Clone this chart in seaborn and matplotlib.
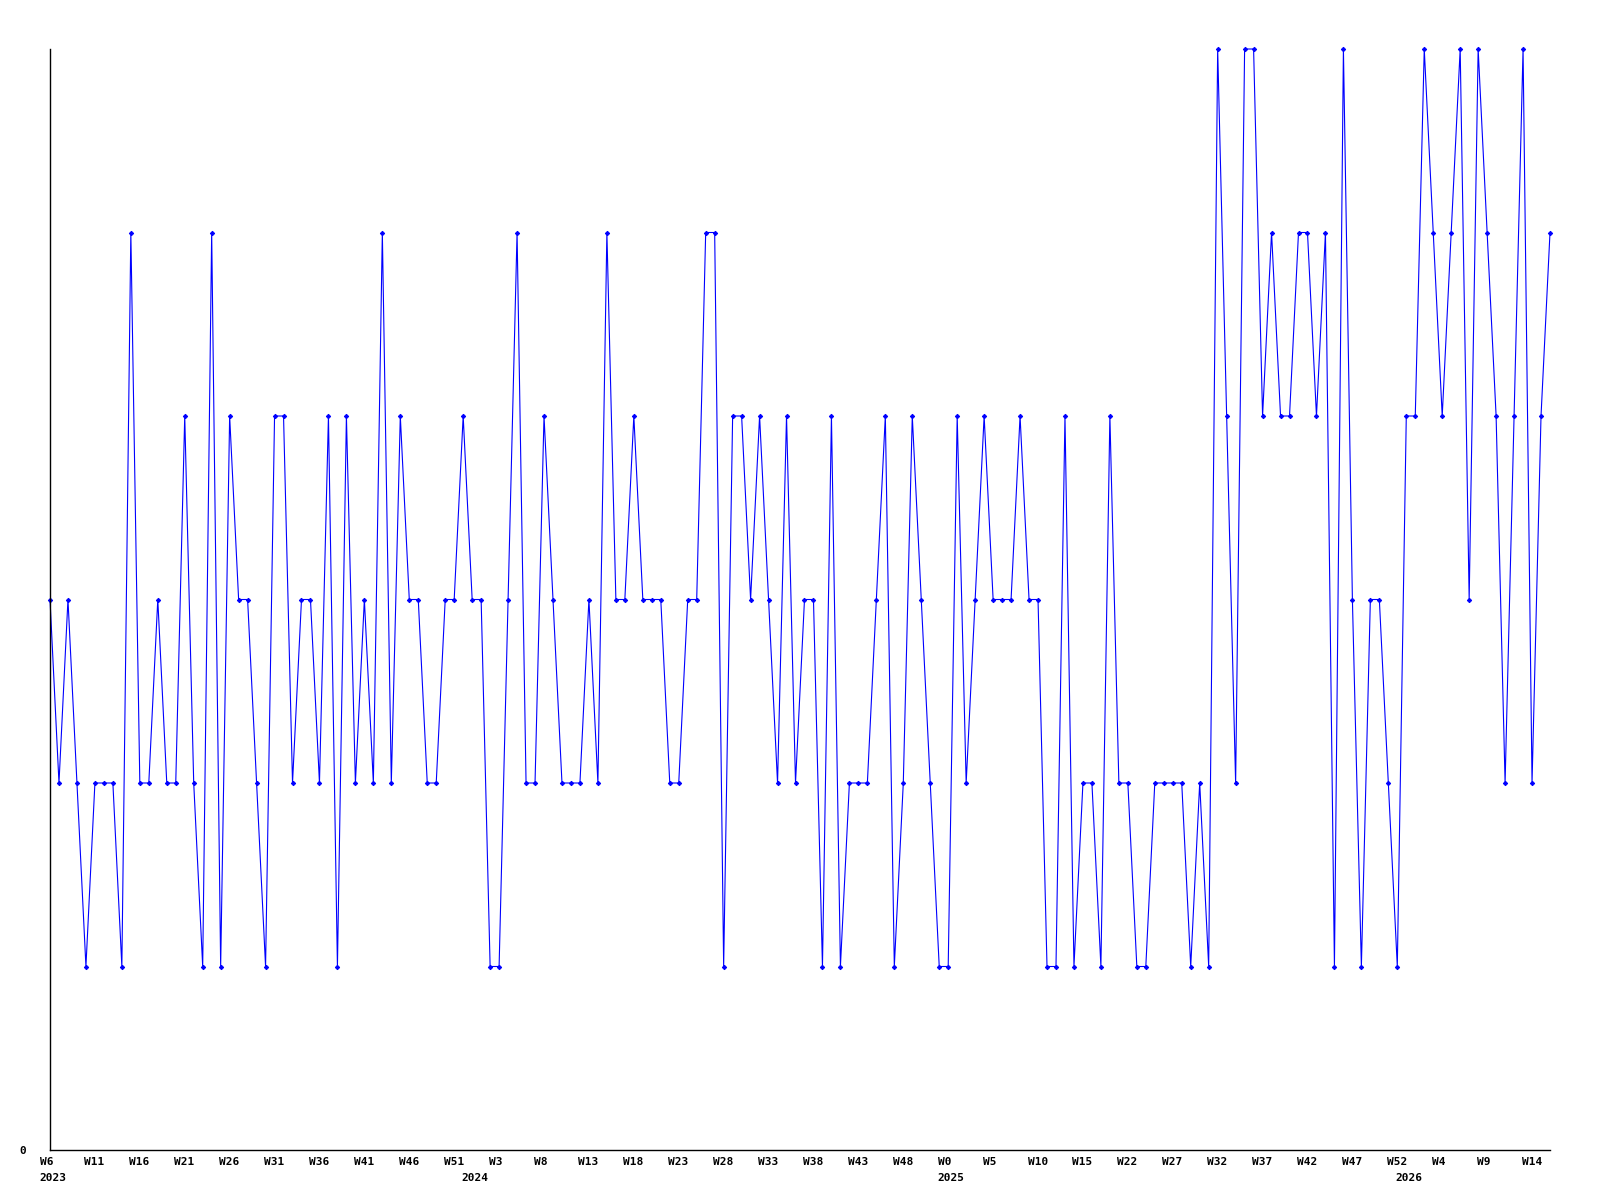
import matplotlib
matplotlib.use("Agg")
import matplotlib.pyplot as plt
import matplotlib.transforms as mtransforms
import seaborn as sns
import pandas as pd
import numpy as np

values = [
    3, 2, 3, 2, 1, 2, 2, 2, 1, 5,
    2, 2, 3, 2, 2, 4, 2, 1, 5, 1,
    4, 3, 3, 2, 1, 4, 4, 2, 3, 3,
    2, 4, 1, 4, 2, 3, 2, 5, 2, 4,
    3, 3, 2, 2, 3, 3, 4, 3, 3, 1,
    1, 3, 5, 2, 2, 4, 3, 2, 2, 2,
    3, 2, 5, 3, 3, 4, 3, 3, 3, 2,
    2, 3, 3, 5, 5, 1, 4, 4, 3, 4,
    3, 2, 4, 2, 3, 3, 1, 4, 1, 2,
    2, 2, 3, 4, 1, 2, 4, 3, 2, 1,
    1, 4, 2, 3, 4, 3, 3, 3, 4, 3,
    3, 1, 1, 4, 1, 2, 2, 1, 4, 2,
    2, 1, 1, 2, 2, 2, 2, 1, 2, 1,
    6, 4, 2, 6, 6, 4, 5, 4, 4, 5,
    5, 4, 5, 1, 6, 3, 1, 3, 3, 2,
    1, 4, 4, 6, 5, 4, 5, 6, 3, 6,
    5, 4, 2, 4, 6, 2, 4, 5,
]

week_tick_labels = [
    "W6", "W11", "W16", "W21", "W26", "W31", "W36", "W41", "W46", "W51",
    "W3", "W8", "W13", "W18", "W23", "W28", "W33", "W38", "W43", "W48",
    "W0", "W5", "W10", "W15", "W22", "W27", "W32", "W37", "W42", "W47",
    "W52", "W4", "W9", "W14",
]
tick_step = 5

year_labels = ["2023", "2024", "2025", "2026"]
year_start_index = [0, 47, 100, 151]

df = pd.DataFrame({"week": np.arange(len(values)), "value": values})

sns.set_style("white")
plt.rcParams["font.family"] = ["DejaVu Sans Mono", "DejaVu Sans"]

fig = plt.figure(figsize=(16, 12), dpi=100)
ax = fig.add_axes([50 / 1600, 1 - 1150 / 1200, 1500 / 1600, (1150 - 49) / 1200])

sns.lineplot(data=df, x="week", y="value", ax=ax, color="#0000ff",
             linewidth=0.8, marker="D", markersize=2.2,
             markeredgecolor="#0000ff", markerfacecolor="#0000ff",
             clip_on=False)

ax.set_xlim(0, len(values) - 1)
ax.set_ylim(0, 6)
ax.set_xlabel("")
ax.set_ylabel("")

for s in ["top", "right"]:
    ax.spines[s].set_visible(False)
for s in ["left", "bottom"]:
    ax.spines[s].set_color("black")
    ax.spines[s].set_linewidth(1.0)

ax.xaxis.remove_overlapping_locs = False
ax.set_xticks([i * tick_step for i in range(len(week_tick_labels))])
ax.set_xticklabels(week_tick_labels, fontsize=8, fontweight="bold", color="black")
ax.set_xticks(year_start_index, minor=True)
ax.set_xticklabels(year_labels, minor=True, fontsize=8, fontweight="bold", color="black")
ax.tick_params(axis="x", which="major", length=0, pad=5)
ax.tick_params(axis="x", which="minor", length=0, pad=16.5)

offset = mtransforms.ScaledTranslation(-10.5 / 100, 0, fig.dpi_scale_trans)
for lab in ax.get_xticklabels() + ax.get_xticklabels(minor=True):
    lab.set_horizontalalignment("left")
    lab.set_transform(lab.get_transform() + offset)

ax.set_yticks([0])
ax.set_yticklabels(["0"], fontsize=8, fontweight="bold", color="black")
ax.tick_params(axis="y", length=0, pad=17)

ax.grid(False)
fig.savefig("out.png", dpi=100)
